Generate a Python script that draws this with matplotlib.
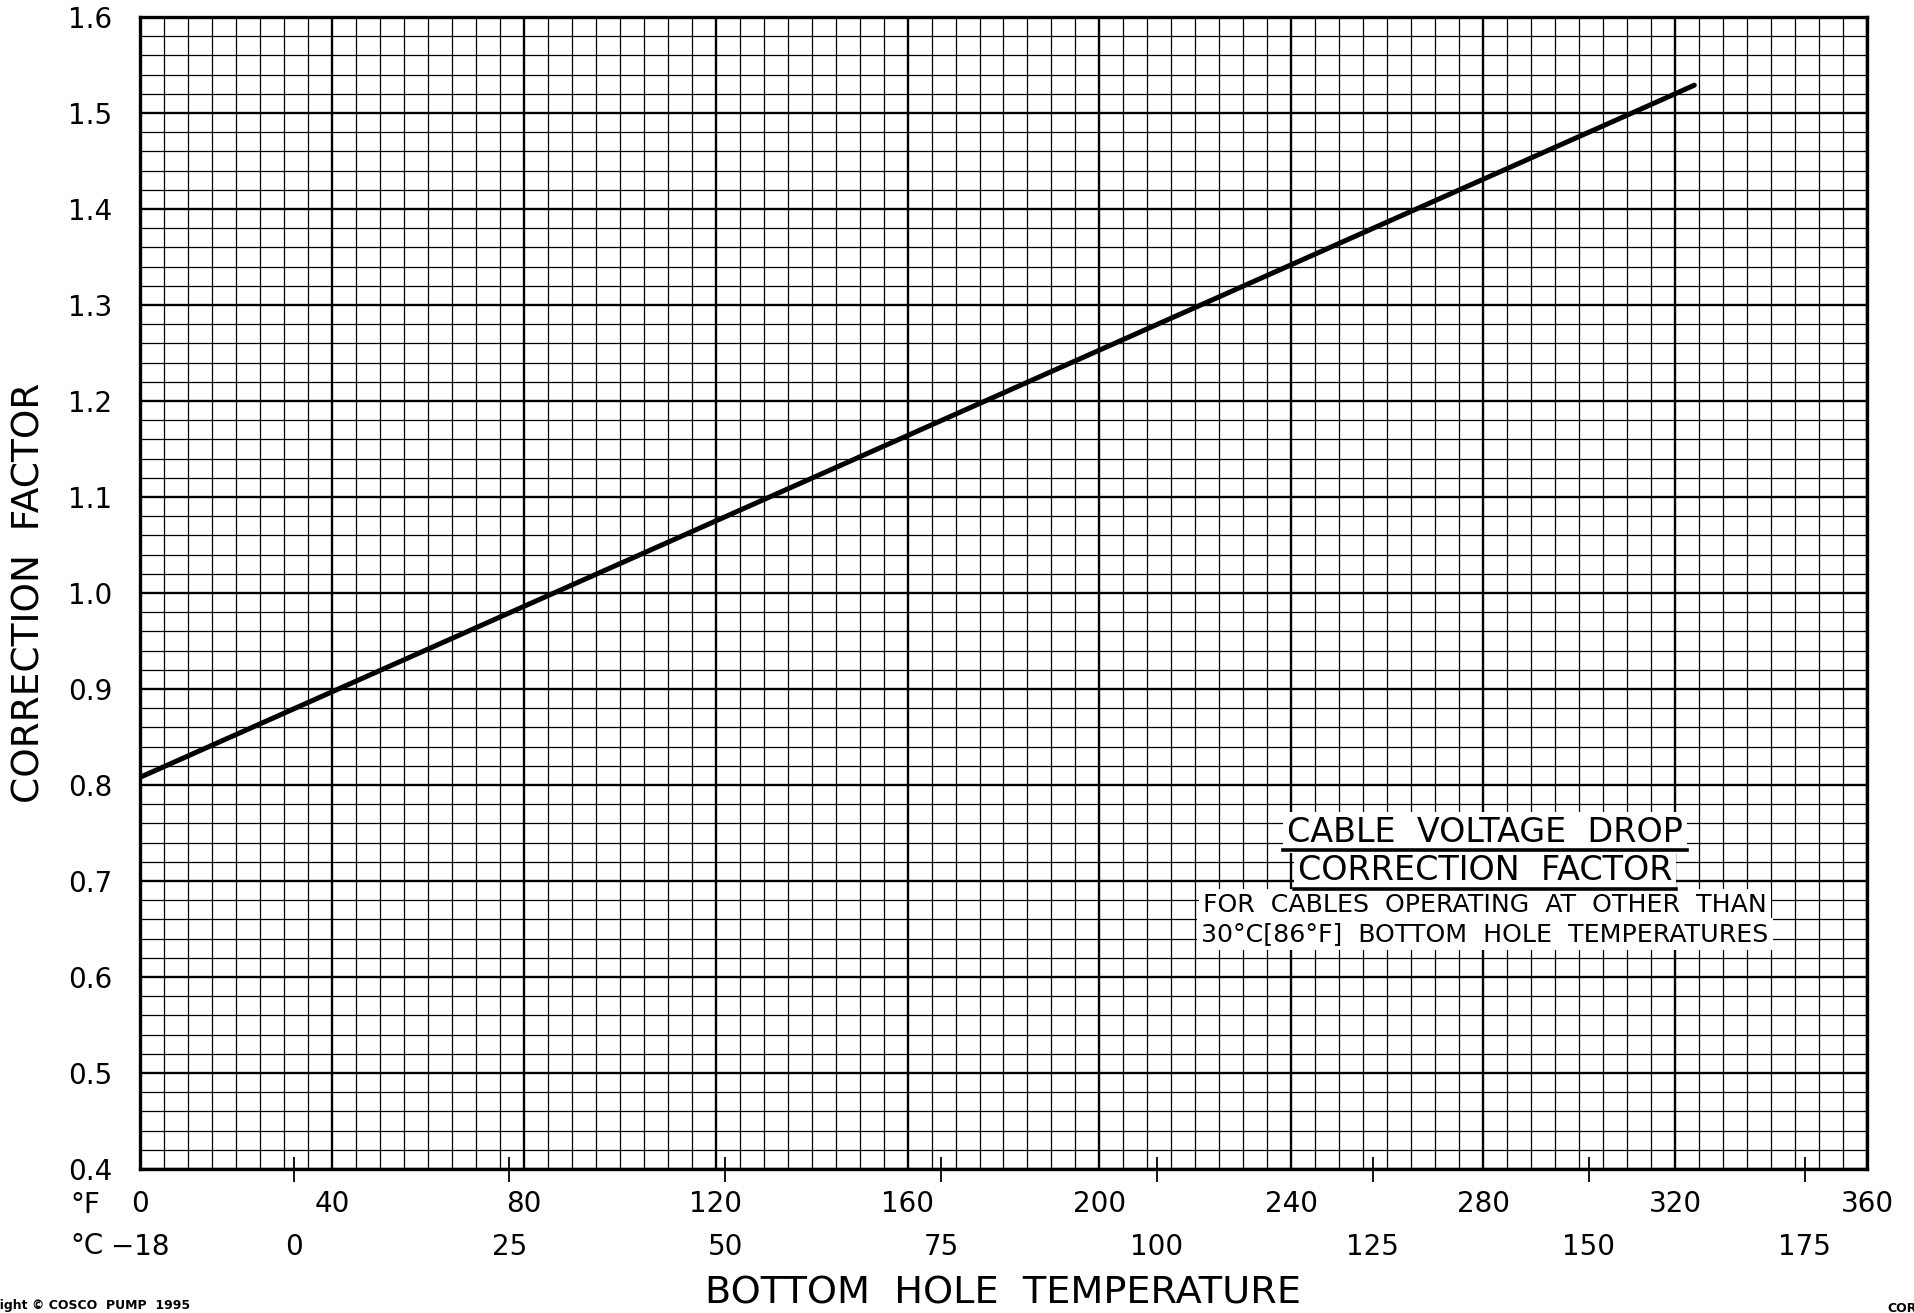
import numpy as np
import matplotlib
matplotlib.use("Agg")
import matplotlib.pyplot as plt
from matplotlib.lines import Line2D
from matplotlib.ticker import MultipleLocator

plt.rcParams['font.family'] = ['DejaVu Sans']

# ===== data =====
temp_f = [0, 40, 80, 120, 160, 200, 240, 280, 320, 324]
factor = [0.808, 0.897, 0.986, 1.075, 1.164, 1.253, 1.342, 1.431, 1.520, 1.529]

f_ticks = [0, 40, 80, 120, 160, 200, 240, 280, 320, 360]
c_ticks = [-17.77, 0, 25, 50, 75, 100, 125, 150, 175]
c_labels = ["\u221218", "0", "25", "50", "75", "100", "125", "150", "175"]
y_ticks = [0.4, 0.5, 0.6, 0.7, 0.8, 0.9, 1.0, 1.1, 1.2, 1.3, 1.4, 1.5, 1.6]

title_lines = ["CABLE  VOLTAGE  DROP", "CORRECTION  FACTOR"]
note_lines = ["FOR  CABLES  OPERATING  AT  OTHER  THAN",
              "30\u00b0C[86\u00b0F]  BOTTOM  HOLE  TEMPERATURES"]


def f2c(x):
    return (np.asarray(x) - 32) * 5 / 9


def c2f(x):
    return np.asarray(x) * 9 / 5 + 32


fig = plt.figure(figsize=(19.15, 13.13), dpi=100)
ax = fig.add_axes([140 / 1915, 1 - 1169 / 1313, 1727 / 1915, 1152 / 1313])

ax.plot(temp_f, factor, color="black", lw=3.6, solid_capstyle="round", zorder=5)

ax.set_xlim(0, 360)
ax.set_ylim(0.4, 1.6)

# grid
ax.xaxis.set_minor_locator(MultipleLocator(5))
ax.yaxis.set_minor_locator(MultipleLocator(0.02))
ax.set_xticks(f_ticks)
ax.set_yticks(y_ticks)
ax.grid(which="minor", color="black", lw=0.9)
ax.grid(which="major", color="black", lw=1.7)
ax.set_axisbelow(True)

for s in ax.spines.values():
    s.set_linewidth(2.4)

ax.set_xticklabels([str(v) for v in f_ticks])
ax.set_yticklabels(["%.1f" % v for v in y_ticks])
ax.tick_params(which="both", length=0)
ax.tick_params(axis="x", labelsize=20, pad=15)
ax.tick_params(axis="y", labelsize=20, pad=20)

# celsius scale
sec = ax.secondary_xaxis("bottom", functions=(f2c, c2f))
sec.set_xticks(c_ticks)
sec.set_xticklabels(c_labels)
sec.tick_params(direction="inout", length=18, width=1.3, labelsize=20, pad=37)
sec.xaxis.get_major_ticks()[0].tick1line.set_visible(False)
sec.spines["bottom"].set_visible(False)

fig.text(70 / 1915, 1 - 1205 / 1313, "\u00b0F", fontsize=20, ha="left", va="center")
fig.text(70 / 1915, 1 - 1246 / 1313, "\u00b0C", fontsize=20, ha="left", va="center")

fig.text(30 / 1915, 1 - 593 / 1313, "CORRECTION  FACTOR", fontsize=27,
         rotation=90, ha="center", va="center")
fig.text(1003 / 1915, 1 - 1293 / 1313, "BOTTOM  HOLE  TEMPERATURE", fontsize=27.5,
         ha="center", va="center")

fig.text(190 / 1915, 1 - 1305 / 1313, "Copyright \u00a9 COSCO  PUMP  1995",
         fontsize=9, fontweight="bold", ha="right", va="center")
fig.text(1887 / 1915, 1 - 1308 / 1313, "CORRECTION", fontsize=9,
         fontweight="bold", ha="left", va="center")

# annotation block
box = dict(facecolor="white", edgecolor="none", pad=3)
cx = 1485 / 1915
t1 = fig.text(cx, 1 - 832 / 1313, title_lines[0], fontsize=24, ha="center",
              va="center", bbox=box, zorder=6)
t2 = fig.text(cx, 1 - 871 / 1313, title_lines[1], fontsize=24, ha="center",
              va="center", bbox=box, zorder=6)
fig.text(cx, 1 - 905 / 1313, note_lines[0], fontsize=18.2, ha="center",
         va="center", bbox=box, zorder=6)
fig.text(cx, 1 - 934 / 1313, note_lines[1], fontsize=18.2, ha="center",
         va="center", bbox=box, zorder=6)

# underline the two title lines
fig.canvas.draw()
r = fig.canvas.get_renderer()
inv = fig.transFigure.inverted()
for t in (t1, t2):
    bb = t.get_window_extent(r)
    (x0, y0), (x1, _) = inv.transform([(bb.x0 - 4, bb.y0 - 1), (bb.x1 + 4, bb.y0)])
    fig.add_artist(Line2D([x0, x1], [y0, y0], color="black", lw=2.6, zorder=7))

fig.savefig("out.png", dpi=100)
